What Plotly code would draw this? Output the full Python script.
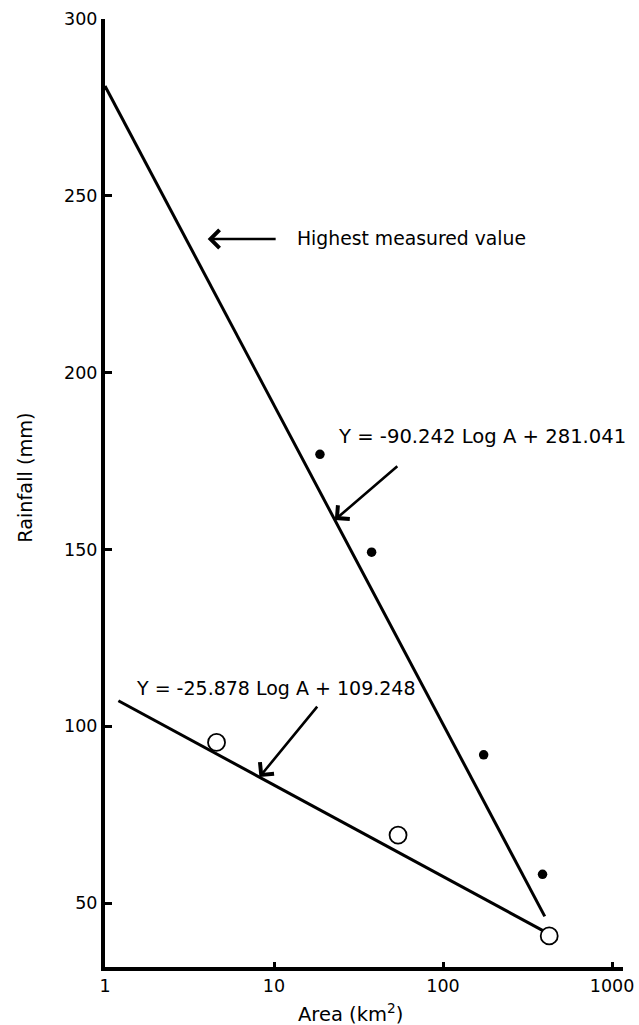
import numpy as np
import plotly.graph_objects as go

# Measured storm rainfall against catchment area
storm_a_area = [18.7, 37.8, 174, 388]          # km2, filled points
storm_a_rain = [176.9, 149.2, 91.9, 58.1]      # mm
storm_b_area = [4.57, 54.2, 425]               # km2, open points
storm_b_rain = [95.4, 69.2, 40.7]              # mm

# Fitted relations  Y = slope * log10(A) + intercept
fit_a_slope, fit_a_intercept = -90.242, 281.041
fit_b_slope, fit_b_intercept = -25.878, 109.248
fit_a_span = [1, 400]      # km2
fit_b_span = [1.2, 400]    # km2

x_ticks = [1, 10, 100, 1000]
y_ticks = [50, 100, 150, 200, 250, 300]

FONT = "DejaVu Sans"


def fit(area, slope, intercept):
    return slope * np.log10(np.asarray(area, dtype=float)) + intercept


def eq_text(slope, intercept):
    return f"Y = {slope:.3f} Log A + {intercept:.3f}"


fig = go.Figure()

fig.add_trace(go.Scatter(
    x=fit_a_span, y=fit(fit_a_span, fit_a_slope, fit_a_intercept),
    mode="lines", line=dict(color="black", width=3), hoverinfo="skip"))
fig.add_trace(go.Scatter(
    x=fit_b_span, y=fit(fit_b_span, fit_b_slope, fit_b_intercept),
    mode="lines", line=dict(color="black", width=3), hoverinfo="skip"))

fig.add_trace(go.Scatter(
    x=storm_a_area, y=storm_a_rain, mode="markers",
    marker=dict(size=9.5, color="black", line=dict(width=0))))
fig.add_trace(go.Scatter(
    x=storm_b_area, y=storm_b_rain, mode="markers",
    marker=dict(size=17, color="white", line=dict(color="black", width=1.8))))

# "Highest measured value" label, its arrow leaves the padded text box
fig.add_annotation(x=np.log10(4.05), y=237.8, ax=68, ay=0,
                   text="Highest measured value", showarrow=True,
                   arrowhead=4, arrowsize=1.35, arrowwidth=2.6,
                   arrowcolor="black", standoff=0,
                   xanchor="left", yanchor="middle", borderpad=20,
                   font=dict(size=18.8, color="black", family=FONT))

# equation labels
fig.add_annotation(x=np.log10(23.3), y=181.8, text=eq_text(fit_a_slope, fit_a_intercept),
                   showarrow=False, xanchor="left", yanchor="middle",
                   font=dict(size=19.6, color="black", family=FONT))
fig.add_annotation(x=np.log10(1.485), y=110.8, text=eq_text(fit_b_slope, fit_b_intercept),
                   showarrow=False, xanchor="left", yanchor="middle",
                   font=dict(size=19.0, color="black", family=FONT))

# axis titles
fig.add_annotation(xref="paper", yref="paper", x=0.473, y=-0.049,
                   text="Area (km<sup>2</sup>)", showarrow=False,
                   xanchor="center", yanchor="middle",
                   font=dict(size=19.5, color="black", family=FONT))
fig.add_annotation(xref="paper", yref="paper", x=-0.1525, y=0.516,
                   text="Rainfall (mm)", textangle=-90, showarrow=False,
                   xanchor="center", yanchor="middle",
                   font=dict(size=19.3, color="black", family=FONT))

# arrows pointing at the fitted lines (tip on the line, tail offset in pixels)
arrow_style = dict(showarrow=True, text="", arrowhead=4, arrowsize=1.35,
                   arrowwidth=2.6, arrowcolor="black", standoff=0)
tip_a = 22.9
fig.add_annotation(x=np.log10(tip_a), y=float(fit(tip_a, fit_a_slope, fit_a_intercept)),
                   ax=64, ay=-55, **arrow_style)
tip_b = 8.2
fig.add_annotation(x=np.log10(tip_b), y=float(fit(tip_b, fit_b_slope, fit_b_intercept)),
                   ax=59, ay=-72, **arrow_style)

axis_common = dict(
    showline=True, linecolor="black", linewidth=4,
    ticks="inside", tickcolor="black", tickwidth=3,
    showgrid=False, zeroline=False,
    tickfont=dict(size=17.5, color="black", family=FONT),
)

fig.update_xaxes(
    type="log", range=[0, 3.065], tickvals=x_ticks,
    ticktext=[str(v) for v in x_ticks], ticklen=5, **axis_common)
fig.update_yaxes(
    range=[31.9, 300], tickvals=y_ticks, ticklen=7, **axis_common)

fig.update_layout(
    width=639, height=1025,
    margin=dict(l=105, r=16, t=19, b=58, autoexpand=False),
    paper_bgcolor="white", plot_bgcolor="white",
    showlegend=False,
    font=dict(family=FONT, color="black"),
)

fig.write_html("out.html")
